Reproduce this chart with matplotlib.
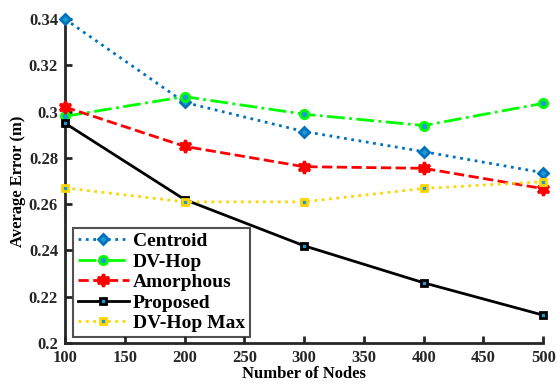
import numpy as np
import matplotlib
matplotlib.use("Agg")
import matplotlib.pyplot as plt

plt.rcParams["font.family"] = ["Liberation Serif", "DejaVu Serif"]
plt.rcParams["font.weight"] = "bold"

nodes = [100, 200, 300, 400, 500]
centroid = [0.340, 0.304, 0.2914, 0.2827, 0.2736]
dv_hop = [0.298, 0.3065, 0.2989, 0.294, 0.3036]
amorphous = [0.302, 0.285, 0.2762, 0.2755, 0.2667]
proposed = [0.295, 0.262, 0.242, 0.226, 0.212]
dv_hop_max = [0.267, 0.261, 0.261, 0.2668, 0.2697]

face = "#1a9ad6"

# name, values, colour, linestyle, marker, size, marker face
series = [
    ("Centroid", centroid, "#0072BD", ":", "D", 5, face),
    ("DV-Hop", dv_hop, "#00FF00", "-.", "o", 6, face),
    ("Amorphous", amorphous, "#FF0000", "--", (6, 1, 0), 9, "#FF0000"),
    ("Proposed", proposed, "black", "-", "s", 5, face),
    ("DV-Hop Max", dv_hop_max, "#FFD500", ":", "s", 5, face),
]

fig = plt.figure(figsize=(5.56, 3.91), dpi=100)
ax = fig.add_axes([0.117, 0.123, 0.860, 0.828])

for name, vals, col, ls, mk, ms, fc in series:
    ax.plot(nodes, vals, color=col, linestyle=ls, linewidth=2, marker=mk,
            markersize=ms, markerfacecolor=fc, markeredgecolor=col,
            markeredgewidth=2, label=name, clip_on=False, zorder=3)

ax.set_xlim(100, 500)
ax.set_ylim(0.2, 0.34)
ax.set_xticks(np.arange(100, 501, 50))
ax.set_yticks(np.arange(0.2, 0.341, 0.02))
ax.set_yticklabels(["0.2", "0.22", "0.24", "0.26", "0.28", "0.3", "0.32", "0.34"])
ax.tick_params(direction="in", width=2, length=5, labelsize=12, colors="#262626")
ax.tick_params(axis="x", pad=5)
ax.tick_params(axis="y", pad=5)
for lab in ax.get_xticklabels() + ax.get_yticklabels():
    lab.set_fontweight("bold")
ax.spines["top"].set_visible(False)
ax.spines["right"].set_visible(False)
for s in ["left", "bottom"]:
    ax.spines[s].set_linewidth(2)
    ax.spines[s].set_color("#262626")

ax.set_xlabel("Number of Nodes", fontsize=12, fontweight="bold", labelpad=0)
ax.set_ylabel("Average Error (m)", fontsize=12, fontweight="bold", labelpad=2)

leg = ax.legend(loc="lower left", fontsize=14, frameon=True, fancybox=False,
                handlelength=2.6, borderpad=0.25, labelspacing=0.15,
                handletextpad=0.2, borderaxespad=0.3,
                bbox_to_anchor=(0.005, 0.0))
leg.get_frame().set_edgecolor("#262626")
leg.get_frame().set_linewidth(1.5)
for t in leg.get_texts():
    t.set_fontweight("bold")

fig.savefig("out.png", dpi=100)
